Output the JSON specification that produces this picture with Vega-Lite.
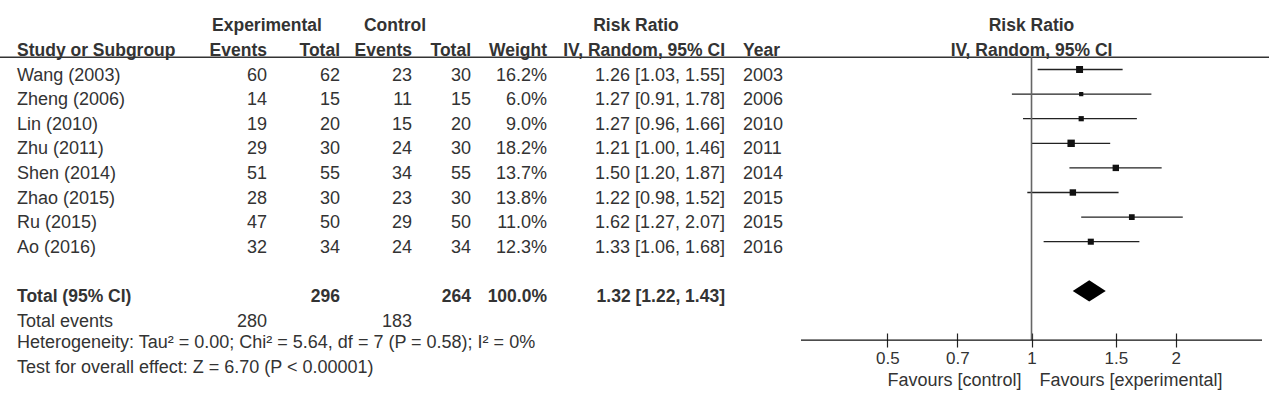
{
"$schema": "https://vega.github.io/schema/vega-lite/v6.json",
"width": 1269,
"height": 369,
"autosize": {"type": "none"},
"padding": {"top": 8, "bottom": 21, "left": 0, "right": 0},
"background": "white",
"config": {"view": {"stroke": null}, "text": {"font": "Liberation Sans", "fontSize": 18, "color": "#333", "baseline": "middle"}},
"datasets": {
"studies": [
{"row": "Wang (2003)", "year": 2003, "expEvents": 60, "expTotal": 62, "ctrlEvents": 23, "ctrlTotal": 30, "weight": 0.162, "rr": 1.26, "lo": 1.03, "hi": 1.55},
{"row": "Zheng (2006)", "year": 2006, "expEvents": 14, "expTotal": 15, "ctrlEvents": 11, "ctrlTotal": 15, "weight": 0.060, "rr": 1.27, "lo": 0.91, "hi": 1.78},
{"row": "Lin (2010)", "year": 2010, "expEvents": 19, "expTotal": 20, "ctrlEvents": 15, "ctrlTotal": 20, "weight": 0.090, "rr": 1.27, "lo": 0.96, "hi": 1.66},
{"row": "Zhu (2011)", "year": 2011, "expEvents": 29, "expTotal": 30, "ctrlEvents": 24, "ctrlTotal": 30, "weight": 0.182, "rr": 1.21, "lo": 1.00, "hi": 1.46},
{"row": "Shen (2014)", "year": 2014, "expEvents": 51, "expTotal": 55, "ctrlEvents": 34, "ctrlTotal": 55, "weight": 0.137, "rr": 1.50, "lo": 1.20, "hi": 1.87},
{"row": "Zhao (2015)", "year": 2015, "expEvents": 28, "expTotal": 30, "ctrlEvents": 23, "ctrlTotal": 30, "weight": 0.138, "rr": 1.22, "lo": 0.98, "hi": 1.52},
{"row": "Ru (2015)", "year": 2015, "expEvents": 47, "expTotal": 50, "ctrlEvents": 29, "ctrlTotal": 50, "weight": 0.110, "rr": 1.62, "lo": 1.27, "hi": 2.07},
{"row": "Ao (2016)", "year": 2016, "expEvents": 32, "expTotal": 34, "ctrlEvents": 24, "ctrlTotal": 34, "weight": 0.123, "rr": 1.33, "lo": 1.06, "hi": 1.68}
],
"overall": [{"row": "Total (95% CI)", "expTotal": 296, "ctrlTotal": 264, "weight": 1.0, "rr": 1.32, "lo": 1.22, "hi": 1.43}],
"totalEvents": [{"row": "Total events", "expEvents": 280, "ctrlEvents": 183}],
"notes": [
{"row": "het", "label": "Heterogeneity: Tau² = 0.00; Chi² = 5.64, df = 7 (P = 0.58); I² = 0%"},
{"row": "test", "label": "Test for overall effect: Z = 6.70 (P < 0.00001)"}
],
"headers": [
{"row": "hdr1", "key": "expEvents", "label": "Experimental"},
{"row": "hdr1", "key": "ctrlEvents", "label": "Control"},
{"row": "hdr1", "key": "rrHeader", "label": "Risk Ratio"},
{"row": "hdr1", "key": "forest", "label": "Risk Ratio"},
{"row": "hdr2", "key": "row", "label": "Study or Subgroup"},
{"row": "hdr2", "key": "expEvents", "label": "Events"},
{"row": "hdr2", "key": "expTotal", "label": "Total"},
{"row": "hdr2", "key": "ctrlEvents", "label": "Events"},
{"row": "hdr2", "key": "ctrlTotal", "label": "Total"},
{"row": "hdr2", "key": "wtText", "label": "Weight"},
{"row": "hdr2", "key": "rrText", "label": "IV, Random, 95% CI"},
{"row": "hdr2", "key": "year", "label": "Year"},
{"row": "hdr2", "key": "forest", "label": "IV, Random, 95% CI"}
],
"favours": [
{"side": "control", "label": "Favours [control]"},
{"side": "experimental", "label": "Favours [experimental]"}
]
},
"encoding": {
"y": {"field": "row", "type": "nominal", "axis": null,
"scale": {"type": "band", "paddingInner": 0, "paddingOuter": 0,
"domain": ["hdr1", "hdr2", "Wang (2003)", "Zheng (2006)", "Lin (2010)", "Zhu (2011)", "Shen (2014)", "Zhao (2015)", "Ru (2015)", "Ao (2016)", "gap", "Total (95% CI)", "Total events", "het", "test"]}}
},
"resolve": {"scale": {"x": "independent"}},
"layer": [
{
"data": {"values": [{"row": "hdr2"}]},
"mark": {"type": "rule", "color": "#333", "strokeWidth": 1.5},
"encoding": {"y": {"field": "row", "type": "nominal", "bandPosition": 1, "axis": null}}
},
{
"layer": [
{"data": {"name": "studies"}, "transform": [{"fold": ["row", "year"]}],
"mark": {"type": "text", "align": "left", "dy": 6},
"encoding": {"x": {"field": "key", "type": "nominal", "axis": null, "scale": {"type": "point", "domain": ["row", "year"], "range": [17, 743], "padding": 0}}, "text": {"field": "value", "type": "nominal"}}},
{"data": {"name": "overall"}, "transform": [{"fold": ["row"]}],
"mark": {"type": "text", "align": "left", "dy": 6, "fontWeight": "bold", "fontSize": 17.5},
"encoding": {"x": {"field": "key", "type": "nominal", "axis": null}, "text": {"field": "value", "type": "nominal"}}},
{"data": {"name": "totalEvents"}, "transform": [{"fold": ["row"]}],
"mark": {"type": "text", "align": "left", "dy": 6},
"encoding": {"x": {"field": "key", "type": "nominal", "axis": null}, "text": {"field": "value", "type": "nominal"}}},
{"data": {"name": "notes"}, "transform": [{"fold": ["row"]}],
"mark": {"type": "text", "align": "left", "dy": 3},
"encoding": {"x": {"field": "key", "type": "nominal", "axis": null}, "text": {"field": "label", "type": "nominal"}}},
{"data": {"name": "headers"}, "transform": [{"filter": "datum.row === 'hdr2' && (datum.key === 'row' || datum.key === 'year')"}],
"mark": {"type": "text", "align": "left", "dy": 6, "fontWeight": "bold", "fontSize": 17.5},
"encoding": {"x": {"field": "key", "type": "nominal", "axis": null}, "text": {"field": "label", "type": "nominal"}}}
]
},
{
"layer": [
{"data": {"name": "studies"}, "transform": [{"fold": ["expEvents", "expTotal"]}],
"mark": {"type": "text", "align": "right", "dy": 6},
"encoding": {"x": {"field": "key", "type": "nominal", "axis": null, "scale": {"type": "point", "domain": ["expEvents", "expTotal"], "range": [267, 340], "padding": 0}}, "text": {"field": "value", "type": "nominal"}}},
{"data": {"name": "totalEvents"}, "transform": [{"fold": ["expEvents"]}],
"mark": {"type": "text", "align": "right", "dy": 6},
"encoding": {"x": {"field": "key", "type": "nominal", "axis": null}, "text": {"field": "value", "type": "nominal"}}},
{"data": {"name": "overall"}, "transform": [{"fold": ["expTotal"]}],
"mark": {"type": "text", "align": "right", "dy": 6, "fontWeight": "bold", "fontSize": 17.5},
"encoding": {"x": {"field": "key", "type": "nominal", "axis": null}, "text": {"field": "value", "type": "nominal"}}},
{"data": {"name": "headers"}, "transform": [{"filter": "datum.row === 'hdr2' && (datum.key === 'expEvents' || datum.key === 'expTotal')"}],
"mark": {"type": "text", "align": "right", "dy": 6, "fontWeight": "bold", "fontSize": 17.5},
"encoding": {"x": {"field": "key", "type": "nominal", "axis": null}, "text": {"field": "label", "type": "nominal"}}},
{"data": {"name": "headers"}, "transform": [{"filter": "datum.row === 'hdr1' && datum.key === 'expEvents'"}],
"mark": {"type": "text", "align": "center", "dy": 6, "fontWeight": "bold", "fontSize": 17.5},
"encoding": {"x": {"field": "key", "type": "nominal", "axis": null}, "text": {"field": "label", "type": "nominal"}}}
]
},
{
"layer": [
{"data": {"name": "studies"}, "transform": [{"fold": ["ctrlEvents", "ctrlTotal"]}],
"mark": {"type": "text", "align": "right", "dy": 6},
"encoding": {"x": {"field": "key", "type": "nominal", "axis": null, "scale": {"type": "point", "domain": ["ctrlEvents", "ctrlTotal"], "range": [412, 471], "padding": 0}}, "text": {"field": "value", "type": "nominal"}}},
{"data": {"name": "totalEvents"}, "transform": [{"fold": ["ctrlEvents"]}],
"mark": {"type": "text", "align": "right", "dy": 6},
"encoding": {"x": {"field": "key", "type": "nominal", "axis": null}, "text": {"field": "value", "type": "nominal"}}},
{"data": {"name": "overall"}, "transform": [{"fold": ["ctrlTotal"]}],
"mark": {"type": "text", "align": "right", "dy": 6, "fontWeight": "bold", "fontSize": 17.5},
"encoding": {"x": {"field": "key", "type": "nominal", "axis": null}, "text": {"field": "value", "type": "nominal"}}},
{"data": {"name": "headers"}, "transform": [{"filter": "datum.row === 'hdr2' && (datum.key === 'ctrlEvents' || datum.key === 'ctrlTotal')"}],
"mark": {"type": "text", "align": "right", "dy": 6, "fontWeight": "bold", "fontSize": 17.5},
"encoding": {"x": {"field": "key", "type": "nominal", "axis": null}, "text": {"field": "label", "type": "nominal"}}},
{"data": {"name": "headers"}, "transform": [{"filter": "datum.row === 'hdr1' && datum.key === 'ctrlEvents'"}],
"mark": {"type": "text", "align": "center", "dy": 6, "dx": -17, "fontWeight": "bold", "fontSize": 17.5},
"encoding": {"x": {"field": "key", "type": "nominal", "axis": null}, "text": {"field": "label", "type": "nominal"}}}
]
},
{
"layer": [
{"data": {"name": "studies"},
"transform": [
{"calculate": "format(datum.weight, '.1%')", "as": "wtText"},
{"calculate": "format(datum.rr, '.2f') + ' [' + format(datum.lo, '.2f') + ', ' + format(datum.hi, '.2f') + ']'", "as": "rrText"},
{"fold": ["wtText", "rrText"]}],
"mark": {"type": "text", "align": "right", "dy": 6},
"encoding": {"x": {"field": "key", "type": "nominal", "axis": null, "scale": {"type": "point", "domain": ["wtText", "rrHeader", "rrText"], "range": [547, 725], "padding": 0}}, "text": {"field": "value", "type": "nominal"}}},
{"data": {"name": "overall"},
"transform": [
{"calculate": "format(datum.weight, '.1%')", "as": "wtText"},
{"calculate": "format(datum.rr, '.2f') + ' [' + format(datum.lo, '.2f') + ', ' + format(datum.hi, '.2f') + ']'", "as": "rrText"},
{"fold": ["wtText", "rrText"]}],
"mark": {"type": "text", "align": "right", "dy": 6, "fontWeight": "bold", "fontSize": 17.5},
"encoding": {"x": {"field": "key", "type": "nominal", "axis": null}, "text": {"field": "value", "type": "nominal"}}},
{"data": {"name": "headers"}, "transform": [{"filter": "datum.row === 'hdr2' && (datum.key === 'wtText' || datum.key === 'rrText')"}],
"mark": {"type": "text", "align": "right", "dy": 6, "fontWeight": "bold", "fontSize": 17.5},
"encoding": {"x": {"field": "key", "type": "nominal", "axis": null}, "text": {"field": "label", "type": "nominal"}}},
{"data": {"name": "headers"}, "transform": [{"filter": "datum.row === 'hdr1' && datum.key === 'rrHeader'"}],
"mark": {"type": "text", "align": "center", "dy": 6, "fontWeight": "bold", "fontSize": 17.5},
"encoding": {"x": {"field": "key", "type": "nominal", "axis": null}, "text": {"field": "label", "type": "nominal"}}}
]
},
{
"layer": [
{"data": {"name": "studies"},
"mark": {"type": "rule", "color": "#222", "strokeWidth": 1.3},
"encoding": {
"x": {"field": "lo", "type": "quantitative",
"scale": {"type": "log", "domain": [0.33, 3.03], "range": [801, 1262], "nice": false},
"axis": {"values": [0.5, 0.7, 1, 1.5, 2], "format": "~g", "orient": "bottom", "offset": -44, "domain": false, "grid": false, "tickSize": 14, "tickColor": "#222", "tickWidth": 1.2, "labelFont": "Liberation Sans", "labelFontSize": 17, "labelColor": "#333", "labelPadding": 3, "labelFlush": false, "labelOverlap": false, "title": null}},
"x2": {"field": "hi"}}},
{"data": {"name": "studies"},
"mark": {"type": "square", "color": "#111", "opacity": 1},
"encoding": {"x": {"field": "rr", "type": "quantitative"},
"size": {"field": "weight", "type": "quantitative", "scale": {"domain": [0, 0.2], "range": [0, 60]}, "legend": null}}},
{"data": {"name": "overall"},
"mark": {"type": "point", "shape": "M-1,0L0,-0.64L1,0L0,0.64Z", "filled": true, "color": "#000", "opacity": 1, "size": 1089},
"encoding": {"x": {"field": "rr", "type": "quantitative"}}},
{"data": {"values": [{}]},
"mark": {"type": "rule", "color": "#666", "strokeWidth": 1.6},
"encoding": {"x": {"datum": 1, "type": "quantitative"},
"y": {"datum": "Wang (2003)", "type": "nominal", "bandPosition": 0, "axis": null},
"y2": {"datum": "het"}}},
{"data": {"values": [{}]},
"mark": {"type": "rule", "color": "#111", "strokeWidth": 1.3},
"encoding": {"x": {"datum": 0.33, "type": "quantitative"}, "x2": {"datum": 3.03},
"y": {"datum": "het", "type": "nominal", "axis": null}}},
{"data": {"name": "headers"}, "transform": [{"filter": "datum.key === 'forest'"}],
"mark": {"type": "text", "align": "center", "dy": 6, "fontWeight": "bold", "fontSize": 17.5},
"encoding": {"x": {"datum": 1, "type": "quantitative"}, "text": {"field": "label", "type": "nominal"}}},
{"data": {"name": "favours"}, "transform": [{"filter": "datum.side === 'control'"}],
"mark": {"type": "text", "align": "right", "dx": -10, "dy": 16},
"encoding": {"x": {"datum": 1, "type": "quantitative"}, "y": {"datum": "test", "type": "nominal", "axis": null}, "text": {"field": "label", "type": "nominal"}}},
{"data": {"name": "favours"}, "transform": [{"filter": "datum.side === 'experimental'"}],
"mark": {"type": "text", "align": "left", "dx": 8, "dy": 16},
"encoding": {"x": {"datum": 1, "type": "quantitative"}, "y": {"datum": "test", "type": "nominal", "axis": null}, "text": {"field": "label", "type": "nominal"}}}
]
}
]
}
